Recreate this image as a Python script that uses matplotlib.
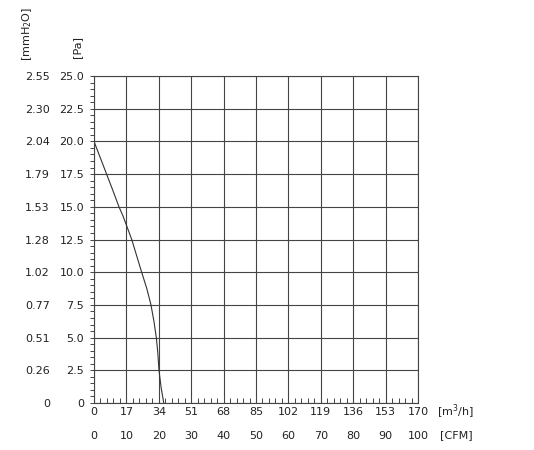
import matplotlib
matplotlib.use("Agg")
import matplotlib.pyplot as plt
from matplotlib.ticker import MultipleLocator

# fan curve: flow [m3/h] vs static pressure [Pa]
flow = [0, 3.3, 6.6, 9.9, 13.1, 15.2, 17.0, 19.8, 22.4, 25.0, 27.7, 29.9, 31.5, 32.7, 33.5, 34.1, 35.2, 36.6]
pressure = [20.0, 18.75, 17.5, 16.25, 15.0, 14.3, 13.6, 12.5, 11.25, 10.0, 8.75, 7.5, 6.2, 5.0, 3.8, 2.5, 1.2, 0.0]

m3h_ticks = [0, 17, 34, 51, 68, 85, 102, 119, 136, 153, 170]
cfm_ticks = [0, 10, 20, 30, 40, 50, 60, 70, 80, 90, 100]
pa_ticks = [0, 2.5, 5.0, 7.5, 10.0, 12.5, 15.0, 17.5, 20.0, 22.5, 25.0]
pa_labels = ["0", "2.5", "5.0", "7.5", "10.0", "12.5", "15.0", "17.5", "20.0", "22.5", "25.0"]
mmh2o_labels = ["0", "0.26", "0.51", "0.77", "1.02", "1.28", "1.53", "1.79", "2.04", "2.30", "2.55"]

txt = "#222222"
grid_col = "#444444"
plt.rcParams["font.family"] = ["DejaVu Sans"]
plt.rcParams["font.size"] = 8

fig = plt.figure(figsize=(5.34, 4.5), dpi=100)
ax = fig.add_axes([94 / 534, 1 - 403 / 450, 324 / 534, 327 / 450])

ax.plot(flow, pressure, color="#333333", lw=0.8)

ax.set_xlim(0, 170)
ax.set_ylim(0, 25)
ax.set_xticks(m3h_ticks)
ax.set_xticklabels([str(t) for t in m3h_ticks])
ax.set_yticks(pa_ticks)
ax.set_yticklabels(pa_labels)
ax.xaxis.set_minor_locator(MultipleLocator(3.4))
ax.yaxis.set_minor_locator(MultipleLocator(0.5))
ax.grid(True, which="major", color=grid_col, lw=0.8)
ax.tick_params(axis="x", which="both", direction="in", length=3.5, width=0.7,
               color=grid_col, labelcolor=txt, pad=3)
ax.tick_params(axis="y", which="both", direction="out", length=3, width=0.7,
               color=grid_col, labelcolor=txt, pad=4)
for s in ax.spines.values():
    s.set_color(grid_col)
    s.set_linewidth(0.8)

# CFM scale under the m3/h scale
secx = ax.secondary_xaxis(0, functions=(lambda x: x / 1.7, lambda x: x * 1.7))
secx.set_xticks(cfm_ticks)
secx.set_xticklabels([str(t) for t in cfm_ticks])
secx.tick_params(length=0, pad=20, labelcolor=txt)
secx.spines["bottom"].set_visible(False)

# mmH2O scale left of the Pa scale
secy = ax.secondary_yaxis(-0.136)
secy.set_yticks(pa_ticks)
secy.set_yticklabels(mmh2o_labels)
secy.tick_params(length=0, pad=0, labelcolor=txt)
secy.spines["left"].set_visible(False)

ax.text(1.059, -0.0275, r"[m$^3$/h]", transform=ax.transAxes, ha="left", va="center", color=txt)
ax.text(1.068, -0.098, "[CFM]", transform=ax.transAxes, ha="left", va="center", color=txt)
fig.text(77 / 534, 1 - 47 / 450, "[Pa]", rotation=90, ha="center", va="center", color=txt)
fig.text(27 / 534, 1 - 34 / 450, r"[mmH$_2$O]", rotation=90, ha="center", va="center", color=txt)

fig.savefig("out.png", dpi=100)
